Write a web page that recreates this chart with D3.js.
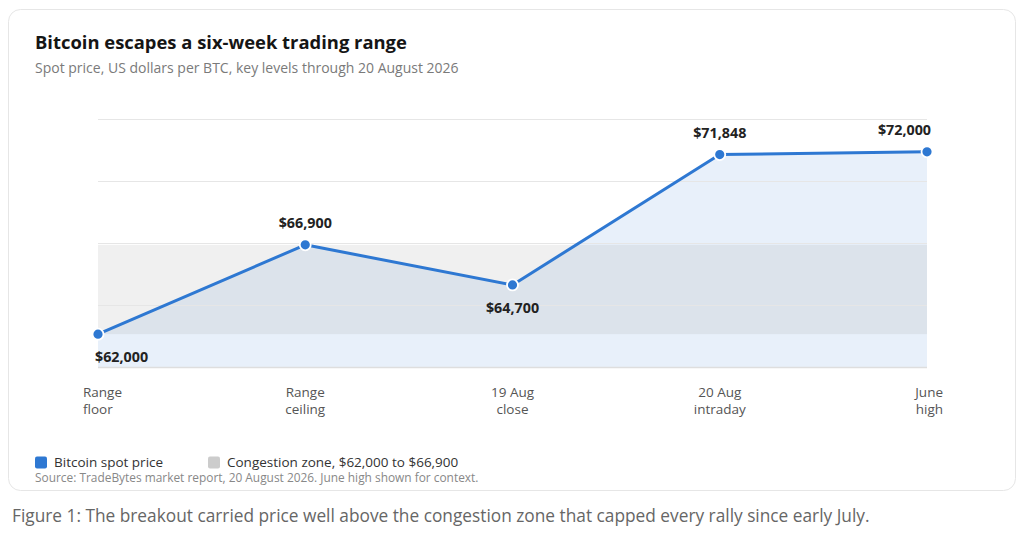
<!DOCTYPE html>
<html>
<head>
<meta charset="utf-8">
<script src="https://cdn.jsdelivr.net/npm/d3@7"></script>
<style>
  body { margin: 0; background: #fff; font-family: "Open Sans", "Noto Sans", sans-serif; }
  svg { display: block; }
</style>
</head>
<body>
<script>
// data
var categories = [["Range", "floor"], ["Range", "ceiling"], ["19 Aug", "close"], ["20 Aug", "intraday"], ["June", "high"]];
var prices = [62000, 66900, 64700, 71848, 72000];
var zoneLow = 62000;
var zoneHigh = 66900;
var legendLabels = ["Bitcoin spot price", "Congestion zone, $62,000 to $66,900"];

var W = 1024, H = 542;
var pLeft = 98, pRight = 927, pTop = 119, pBottom = 367;
var blue = "#2e78d2";

var svg = d3.select("body").append("svg")
    .attr("width", W)
    .attr("height", H);

// card
svg.append("rect")
    .attr("x", 8.5).attr("y", 9.5)
    .attr("width", 1007).attr("height", 481)
    .attr("rx", 12)
    .attr("fill", "#fff")
    .attr("stroke", "#e6e6e6");

svg.append("text")
    .attr("x", 35).attr("y", 49)
    .attr("font-size", "18.4px").attr("font-weight", 700)
    .attr("fill", "#151515")
    .text("Bitcoin escapes a six-week trading range");

svg.append("text")
    .attr("x", 35).attr("y", 73)
    .attr("font-size", "14px")
    .attr("fill", "#7a7a7a")
    .text("Spot price, US dollars per BTC, key levels through 20 August 2026");

var x = d3.scalePoint()
    .domain(d3.range(prices.length))
    .range([pLeft, pRight]);

// padding of 18% of the data range on each side
var pad = (d3.max(prices) - d3.min(prices)) * 0.18;
var y = d3.scaleLinear()
    .domain([d3.min(prices) - pad, d3.max(prices) + pad])
    .range([pBottom, pTop]);

// area under line
var area = d3.area()
    .x(function(d, i) { return x(i); })
    .y0(pBottom)
    .y1(function(d) { return y(d); });

svg.append("path")
    .datum(prices)
    .attr("d", area)
    .attr("fill", "#e8f0fa");

// congestion band
svg.append("rect")
    .attr("x", pLeft)
    .attr("y", y(zoneHigh))
    .attr("width", pRight - pLeft)
    .attr("height", y(zoneLow) - y(zoneHigh))
    .attr("fill", "#8c8c8c")
    .attr("fill-opacity", 0.13);

// grid lines, four equal steps
var grid = d3.range(5).map(function(i) {
    return y.domain()[0] + i * (y.domain()[1] - y.domain()[0]) / 4;
});
svg.selectAll("line.grid")
    .data(grid)
    .enter()
    .append("line")
    .attr("class", "grid")
    .attr("x1", pLeft).attr("x2", pRight)
    .attr("y1", function(d) { return Math.round(y(d)) + 0.5; })
    .attr("y2", function(d) { return Math.round(y(d)) + 0.5; })
    .attr("stroke", function(d, i) { return i == 0 ? "#dedede" : "#e6e6e6"; })
    .attr("stroke-width", function(d, i) { return i == 0 ? 1.5 : 1; });

var line = d3.line()
    .x(function(d, i) { return x(i); })
    .y(function(d) { return y(d); });

svg.append("path")
    .datum(prices)
    .attr("d", line)
    .attr("fill", "none")
    .attr("stroke", blue)
    .attr("stroke-width", 3)
    .attr("stroke-linejoin", "round");

svg.selectAll("circle")
    .data(prices)
    .enter()
    .append("circle")
    .attr("cx", function(d, i) { return x(i); })
    .attr("cy", function(d) { return y(d); })
    .attr("r", 5.5)
    .attr("fill", blue)
    .attr("stroke", "#fff")
    .attr("stroke-width", 1.8);

// value labels, some go under the point
var below = [true, false, true, false, false];
var last = prices.length - 1;
svg.selectAll("text.val")
    .data(prices)
    .enter()
    .append("text")
    .attr("class", "val")
    .attr("x", function(d, i) {
        if (i == 0) return x(i) - 3;
        if (i == last) return x(i) + 4;
        return x(i);
    })
    .attr("y", function(d, i) { return below[i] ? y(d) + 28 : y(d) - 17; })
    .attr("text-anchor", function(d, i) {
        return i == 0 ? "start" : (i == last ? "end" : "middle");
    })
    .attr("font-size", "14.3px").attr("font-weight", 700)
    .attr("fill", "#222")
    .text(function(d) { return "$" + d3.format(",")(d); });

// x labels
var xl = svg.selectAll("text.xl")
    .data(categories)
    .enter()
    .append("text")
    .attr("class", "xl")
    .attr("text-anchor", function(d, i) {
        return i == 0 ? "start" : (i == last ? "end" : "middle");
    })
    .attr("font-size", "13.5px")
    .attr("fill", "#555");

xl.selectAll("tspan")
    .data(function(d, i) { return d.map(function(t) { return { t: t, i: i }; }); })
    .enter()
    .append("tspan")
    .attr("x", function(d) {
        if (d.i == 0) return x(d.i) - 15;
        if (d.i == last) return x(d.i) + 16;
        return x(d.i);
    })
    .attr("y", function(d, j) { return 397 + j * 17; })
    .text(function(d) { return d.t; });

// legend
var lg = svg.append("g");
var lx = [35, 208];
var lcol = [blue, "#cccccc"];
legendLabels.forEach(function(t, i) {
    lg.append("rect")
        .attr("x", lx[i]).attr("y", 456.5)
        .attr("width", 12).attr("height", 12)
        .attr("rx", 2)
        .attr("fill", lcol[i]);
    lg.append("text")
        .attr("x", lx[i] + 19).attr("y", 467)
        .attr("font-size", "13.5px")
        .attr("fill", "#333")
        .text(t);
});

svg.append("text")
    .attr("x", 35).attr("y", 481.5)
    .attr("font-size", "11.9px")
    .attr("fill", "#888")
    .text("Source: TradeBytes market report, 20 August 2026. June high shown for context.");

svg.append("text")
    .attr("x", 12).attr("y", 522)
    .attr("font-size", "17.3px")
    .attr("fill", "#666")
    .text("Figure 1: The breakout carried price well above the congestion zone that capped every rally since early July.");
</script>
</body>
</html>
